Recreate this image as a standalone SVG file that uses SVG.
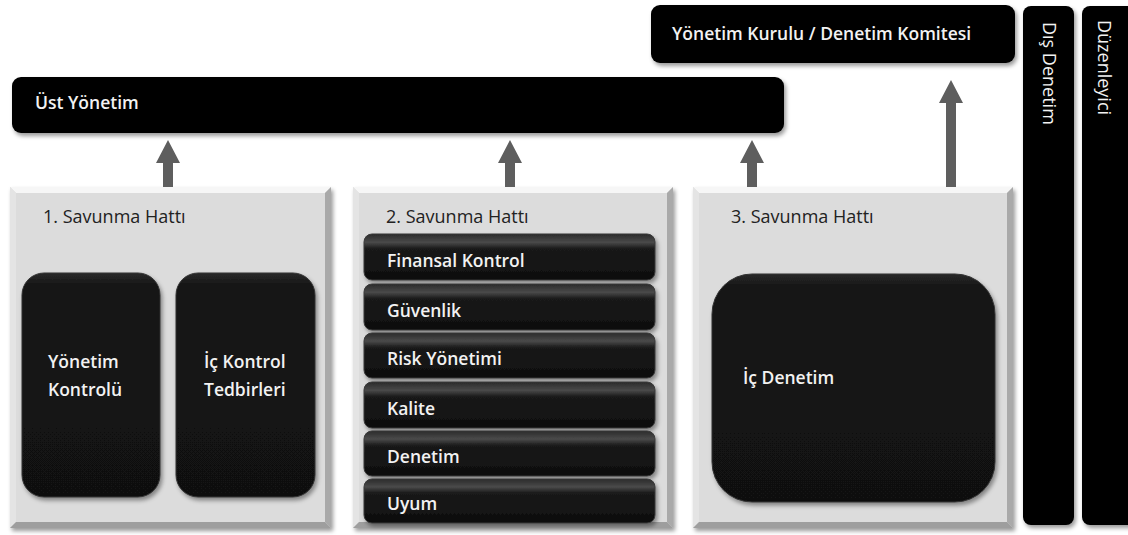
<svg xmlns="http://www.w3.org/2000/svg" width="1128" height="535" viewBox="0 0 1128 535">
<defs>
<filter id="sh" x="-10%" y="-10%" width="130%" height="130%">
<feDropShadow dx="2" dy="3" stdDeviation="2" flood-color="#000" flood-opacity="0.4"/>
</filter>
<linearGradient id="strip" x1="0" y1="0" x2="0" y2="1">
<stop offset="0" stop-color="#2a2a2a"/>
<stop offset="0.18" stop-color="#4a4a4a"/>
<stop offset="0.32" stop-color="#1a1a1a"/>
<stop offset="1" stop-color="#0e0e0e"/>
</linearGradient>
<linearGradient id="inner" x1="0" y1="0" x2="0" y2="1">
<stop offset="0" stop-color="#2a2a2a"/>
<stop offset="0.06" stop-color="#141414"/>
<stop offset="1" stop-color="#111"/>
</linearGradient>
</defs>
<style>
.bar{fill:#000;filter:url(#sh)}
.wt{font-family:"Open Sans","Noto Sans",sans-serif;font-size:17.5px;font-weight:600;fill:#f2f2f2}
.vt{font-family:"Open Sans","Noto Sans",sans-serif;font-size:18px;fill:#f2f2f2}
.dt{font-family:"Open Sans","Noto Sans",sans-serif;font-size:18px;font-weight:500;fill:#222}
.face{fill:#dcdcdc}
.bt{fill:#f6f6f6}
.bl{fill:#e4e4e4}
.br{fill:#a9a9a9}
.bb{fill:#9e9e9e}
.in{fill:url(#inner);stroke:#333;stroke-width:1;filter:url(#sh)}
.st{fill:url(#strip);stroke:#3a3a3a;stroke-width:1;filter:url(#sh)}
.arr{fill:#5e5e5e}
</style>
<rect width="1128" height="535" fill="#fff"/>

<g id="ust-yonetim">
<rect class="bar" x="12" y="77" width="772" height="56" rx="9"/>
<text class="wt" x="35" y="109">Üst Yönetim</text>
</g>

<g id="yonetim-kurulu">
<rect class="bar" x="651" y="5" width="364" height="58" rx="9"/>
<text class="wt" x="672" y="40">Yönetim Kurulu / Denetim Komitesi</text>
</g>

<g id="dis-denetim">
<rect class="bar" x="1023" y="6" width="51" height="519" rx="8"/>
<text class="vt" transform="translate(1043,22) rotate(90)">Dış Denetim</text>
</g>

<g id="duzenleyici">
<rect class="bar" x="1082" y="6" width="60" height="519" rx="8"/>
<text class="vt" transform="translate(1098,20) rotate(90)">Düzenleyici</text>
</g>

<g id="hat1">
<g filter="url(#sh)">
<rect class="face" x="10" y="187" width="321" height="341"/>
<polygon class="bt" points="10,187 331,187 325,193 16,193"/>
<polygon class="bl" points="10,187 16,193 16,522 10,528"/>
<polygon class="br" points="331,187 331,528 325,522 325,193"/>
<polygon class="bb" points="10,528 16,522 325,522 331,528"/>
</g>
<text class="dt" x="43" y="223">1. Savunma Hattı</text>
<g id="yonetim-kontrolu">
<rect class="in" x="22" y="273" width="138" height="224" rx="22"/>
<text class="wt" x="48" y="368">Yönetim</text>
<text class="wt" x="48" y="396">Kontrolü</text>
</g>
<g id="ic-kontrol">
<rect class="in" x="176" y="273" width="139" height="224" rx="22"/>
<text class="wt" x="204" y="368">İç Kontrol</text>
<text class="wt" x="204" y="396">Tedbirleri</text>
</g>
</g>

<g id="hat2">
<g filter="url(#sh)">
<rect class="face" x="353" y="187" width="320" height="341"/>
<polygon class="bt" points="353,187 673,187 667,193 359,193"/>
<polygon class="bl" points="353,187 359,193 359,522 353,528"/>
<polygon class="br" points="673,187 673,528 667,522 667,193"/>
<polygon class="bb" points="353,528 359,522 667,522 673,528"/>
</g>
<text class="dt" x="386" y="223">2. Savunma Hattı</text>
<g id="finansal-kontrol">
<rect class="st" x="364" y="234" width="291" height="46" rx="8"/>
<text class="wt" x="387" y="267">Finansal Kontrol</text>
</g>
<g id="guvenlik">
<rect class="st" x="364" y="284" width="291" height="46" rx="8"/>
<text class="wt" x="387" y="317">Güvenlik</text>
</g>
<g id="risk-yonetimi">
<rect class="st" x="364" y="333" width="291" height="45" rx="8"/>
<text class="wt" x="387" y="365">Risk Yönetimi</text>
</g>
<g id="kalite">
<rect class="st" x="364" y="382" width="291" height="46" rx="8"/>
<text class="wt" x="387" y="415">Kalite</text>
</g>
<g id="denetim">
<rect class="st" x="364" y="431" width="291" height="45" rx="8"/>
<text class="wt" x="387" y="463">Denetim</text>
</g>
<g id="uyum">
<rect class="st" x="364" y="479" width="291" height="44" rx="8"/>
<text class="wt" x="387" y="510">Uyum</text>
</g>
</g>

<g id="hat3">
<g filter="url(#sh)">
<rect class="face" x="693" y="187" width="320" height="341"/>
<polygon class="bt" points="693,187 1013,187 1007,193 699,193"/>
<polygon class="bl" points="693,187 699,193 699,522 693,528"/>
<polygon class="br" points="1013,187 1013,528 1007,522 1007,193"/>
<polygon class="bb" points="693,528 699,522 1007,522 1013,528"/>
</g>
<text class="dt" x="731" y="223">3. Savunma Hattı</text>
<g id="ic-denetim">
<rect class="in" x="712" y="274" width="283" height="228" rx="40"/>
<text class="wt" x="743" y="384">İç Denetim</text>
</g>
</g>

<g id="connectors">
<polygon class="arr" points="168,140 180,163 173,163 173,187 163,187 163,163 156,163"/>
<polygon class="arr" points="510,140 522,163 515,163 515,187 505,187 505,163 498,163"/>
<polygon class="arr" points="752,140 764,163 757,163 757,187 747,187 747,163 740,163"/>
<polygon class="arr" points="951,80 963,103 956,103 956,187 946,187 946,103 939,103"/>
</g>
</svg>
